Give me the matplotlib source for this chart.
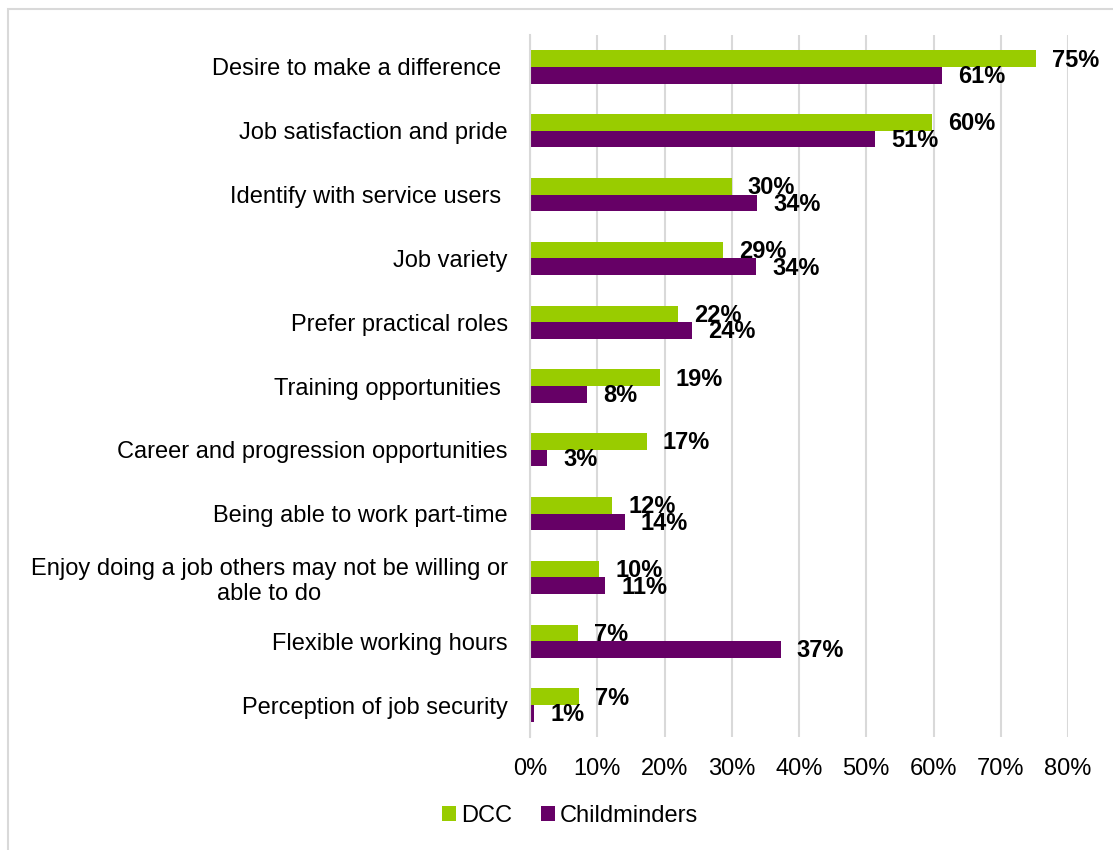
"""
Motivations for working in childcare: DCC vs Childminders
"""
import matplotlib
matplotlib.use('Agg')
import matplotlib.pyplot as plt
from matplotlib.patches import Rectangle
import numpy as np

plt.rcParams['font.family'] = ['Liberation Sans', 'DejaVu Sans']

categories = [
    'Desire to make a difference ',
    'Job satisfaction and pride',
    'Identify with service users ',
    'Job variety',
    'Prefer practical roles',
    'Training opportunities ',
    'Career and progression opportunities',
    'Being able to work part-time',
    'Enjoy doing a job others may not be willing or\nable to do',
    'Flexible working hours',
    'Perception of job security',
]
dcc = [75.2, 59.8, 30.0, 28.7, 22.0, 19.3, 17.4, 12.2, 10.3, 7.1, 7.3]
childminders = [61.3, 51.3, 33.8, 33.6, 24.1, 8.5, 2.6, 14.1, 11.2, 37.3, 0.6]
series_names = ['DCC', 'Childminders']
series_colors = ['#99CC00', '#660066']
x_ticks = [0, 10, 20, 30, 40, 50, 60, 70, 80]

fig = plt.figure(figsize=(11.13, 8.5), dpi=100)
ax = fig.add_axes([530 / 1113, 1 - 737 / 850, 538 / 1113, 702 / 850])

# outer chart frame
fig.patches.append(Rectangle((8 / 1113, -0.05), 1.1, 1 - 9 / 850 + 0.05,
                             transform=fig.transFigure, fill=False,
                             edgecolor='#d9d9d9', linewidth=1.5))

y = np.arange(len(categories))
h = 0.26
bars_g = ax.barh(y - h / 2, dcc, height=h, color=series_colors[0], label=series_names[0])
bars_p = ax.barh(y + h / 2, childminders, height=h, color=series_colors[1], label=series_names[1])

for bars, vals in [(bars_g, dcc), (bars_p, childminders)]:
    for b, v in zip(bars, vals):
        ax.annotate(f'{v:.0f}%', (v, b.get_y() + b.get_height() / 2),
                    xytext=(11.5, -1), textcoords='offset points',
                    ha='left', va='center', fontsize=17, fontweight='bold',
                    color='black')

ax.set_xlim(0, 80)
ax.set_ylim(len(categories) - 0.5, -0.5)
ax.set_xticks(x_ticks)
ax.set_xticklabels([f'{t}%' for t in x_ticks], fontsize=17)
ax.set_yticks(y)
ax.set_yticklabels(categories, fontsize=17, multialignment='center')
ax.tick_params(axis='both', length=0)
ax.tick_params(axis='y', pad=16)
ax.tick_params(axis='x', pad=15)
ax.grid(True, axis='x', color='#d9d9d9', linewidth=1.5)
ax.set_axisbelow(True)
for s in ['top', 'right', 'bottom']:
    ax.spines[s].set_visible(False)
ax.spines['left'].set_color('#d9d9d9')
ax.spines['left'].set_linewidth(1.5)

fig.legend(loc='center', bbox_to_anchor=(570 / 1113, 1 - 816 / 850), ncol=2,
           frameon=False, fontsize=17, handlelength=0.6, handleheight=0.6,
           handletextpad=0.2, columnspacing=1.2)

plt.savefig('out.png', dpi=100)
